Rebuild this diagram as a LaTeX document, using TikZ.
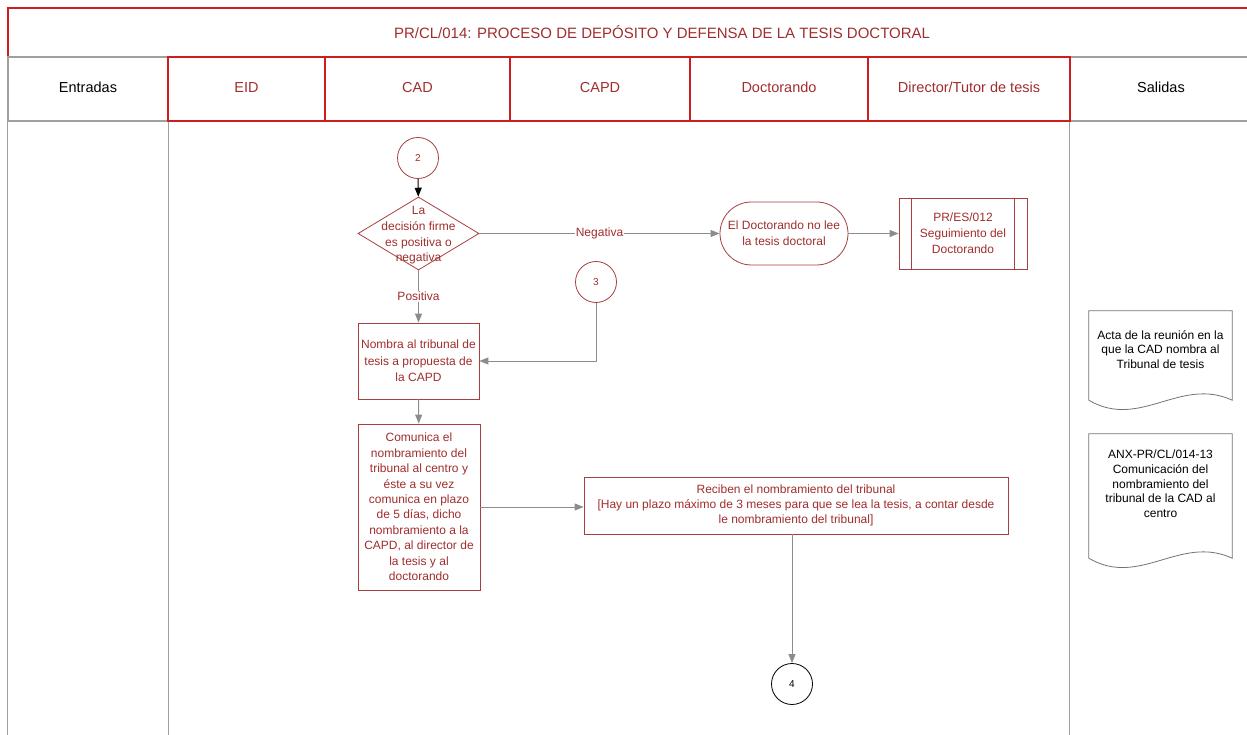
\documentclass[tikz,border=0pt]{standalone}
\usepackage{fontspec}
\setmainfont{Liberation Sans}
\usetikzlibrary{shapes.geometric,arrows.meta}
\definecolor{lanered}{RGB}{204,30,30}
\definecolor{txtred}{RGB}{160,45,45}
\definecolor{boxred}{RGB}{168,62,62}
\definecolor{linegray}{RGB}{160,160,160}
\definecolor{arrowgray}{RGB}{140,140,140}
\tikzset{
  headtext/.style={font=\fontsize{14.5}{17}\selectfont, text height=10.5pt, text depth=3pt},
  lanehead/.style={draw=lanered, line width=1.1pt, text=txtred, headtext, minimum height=64, inner sep=0pt},
  sidehead/.style={draw=linegray, line width=1.1pt, headtext, minimum height=64, inner sep=0pt},
  laneline/.style={draw=linegray, line width=1.1pt},
  steptext/.style={text=txtred, align=center, font=\fontsize{12}{16}\selectfont, inner sep=0pt},
  stepbox/.style={steptext, draw=boxred, line width=0.8pt},
  connector/.style={circle, draw=boxred, line width=0.8pt, text=txtred, minimum size=41, inner sep=0pt, font=\fontsize{10}{12}\selectfont},
  decision/.style={diamond, draw=boxred, line width=0.8pt, minimum width=121, minimum height=73, inner sep=0pt},
  doctext/.style={align=center, font=\fontsize{12}{14.7}\selectfont, inner sep=0pt},
  docnode/.style={minimum width=143, inner sep=0pt},
  docline/.style={draw=black!55, line width=0.8pt},
  flow/.style={draw=arrowgray, line width=0.9pt, -{Triangle[length=9pt,width=7pt]}},
  edgelabel/.style={fill=white, text=txtred, inner sep=1pt, font=\fontsize{12}{14}\selectfont}
}
\begin{document}
\begin{tikzpicture}[x=1pt,y=-1pt]
  \useasboundingbox (0,0) rectangle (1247,735);
  \clip (0,0) rectangle (1247,735);
  % title and swimlanes
  \node[draw=lanered, line width=1.1pt, text=txtred, minimum width=1308, minimum height=49,
    inner sep=0pt, font=\fontsize{15}{17}\selectfont] (title) at (662,32.5)
    {PR/CL/014: PROCESO DE DEPÓSITO Y DEFENSA DE LA TESIS DOCTORAL};
  \draw
    (88,89) node[sidehead, minimum width=160] (entradas){Entradas}
    (1161,89) node[sidehead, minimum width=182] (salidas){Salidas};
  \draw
    (246.5,89) node[lanehead, minimum width=157] (eid){EID}
    (417.5,89) node[lanehead, minimum width=185] (cad){CAD}
    (600,89) node[lanehead, minimum width=180] (capd){CAPD}
    (779,89) node[lanehead, minimum width=178] (doct){Doctorando}
    (969,89) node[lanehead, minimum width=202] (dir){Director/Tutor de tesis};
  \draw[laneline] (entradas.south west) -- (entradas.south west |- 0,735);
  \draw[laneline] (entradas.south east) -- (entradas.south east |- 0,735);
  \draw[laneline] (salidas.south west) -- (salidas.south west |- 0,735);
  % steps
  \node[connector] (c2) at (418,158) {2};
  \node[decision, label={[steptext, yshift=-2pt, font=\fontsize{12}{15.7}\selectfont]center:{La\\decisión firme\\es positiva o\\negativa}}] (dec) at (418.5,233.5) {};
  \node[stepbox, rounded corners=31.5, minimum width=128, minimum height=63] (noleer) at (784,233.5)
    {El Doctorando no lee\\la tesis doctoral};
  \node[stepbox, minimum width=128, minimum height=71] (segui) at (963,233.5)
    {PR/ES/012\\Seguimiento del\\Doctorando};
  \draw[draw=boxred, line width=0.8pt] ([xshift=13]segui.north west) -- ([xshift=13]segui.south west)
    ([xshift=-13]segui.north east) -- ([xshift=-13]segui.south east);
  \node[connector] (c3) at (596,282) {3};
  \node[stepbox, minimum width=121, minimum height=76, font=\fontsize{12}{16.5}\selectfont] (nombra) at (418.5,361)
    {Nombra al tribunal de\\tesis a propuesta de\\la CAPD};
  \node[stepbox, minimum width=122, minimum height=166, font=\fontsize{12}{15.4}\selectfont] (comunica) at (419,507)
    {Comunica el\\nombramiento del\\tribunal al centro y\\éste a su vez\\comunica en plazo\\de 5 días, dicho\\nombramiento a la\\CAPD, al director de\\la tesis y al\\doctorando};
  \node[stepbox, minimum width=424, minimum height=57, font=\fontsize{12}{15}\selectfont] (reciben) at (796,505.5)
    {Reciben el nombramiento del tribunal\\{}[Hay un plazo máximo de 3 meses para que se lea la tesis, a contar desde\\le nombramiento del tribunal]};
  \node[connector, draw=black, text=black] (c4) at (792,684) {4};
  % outputs
  \node[docnode, minimum height=89, label={[doctext, yshift=6pt]center:{Acta de la reunión en la\\que la CAD nombra al\\Tribunal de tesis}}] (acta) at (1160.5,355.5) {};
  \draw[docline] (acta.north west) -- (acta.north east) -- (acta.south east)
    .. controls +(-52,-24) and ([shift={(51,30)}]acta.south west) .. (acta.south west) -- cycle;
  \node[docnode, minimum height=124, label={[doctext, yshift=12pt]center:{ANX-PR/CL/014-13\\Comunicación del\\nombramiento del\\tribunal de la CAD al\\centro}}] (anx) at (1160.5,496) {};
  \draw[docline] (anx.north west) -- (anx.north east) -- (anx.south east)
    .. controls +(-52,-24) and ([shift={(51,30)}]anx.south west) .. (anx.south west) -- cycle;
  % connectors
  \begin{scope}[flow]
    \draw[draw=black] (c2) to (dec);
    \draw (dec) to node[edgelabel] {Negativa} (noleer);
    \draw (noleer) to (segui);
    \draw (dec) to node[edgelabel] {Positiva} (nombra);
    \draw (c3) |- (nombra);
    \draw (nombra) to (comunica);
    \draw (comunica.east) to (comunica.east -| reciben.west);
    \draw (reciben.south -| c4) to (c4);
  \end{scope}
\end{tikzpicture}
\end{document}
